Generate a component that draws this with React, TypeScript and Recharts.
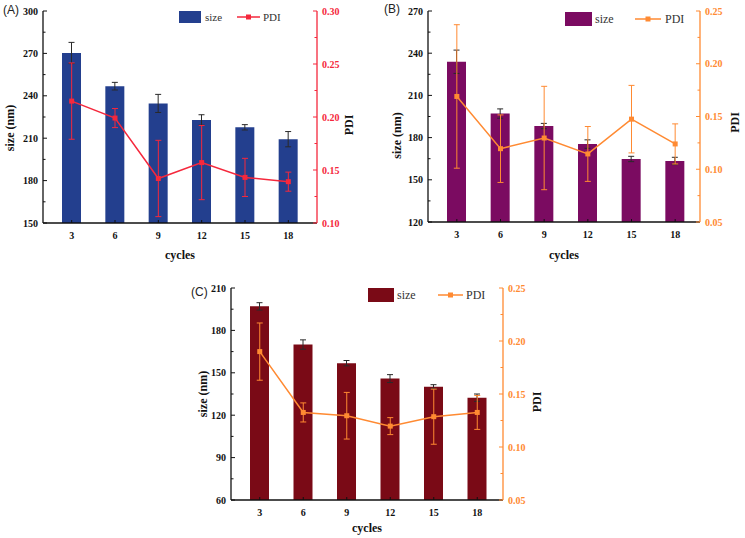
import React from 'react';
import { ComposedChart, Bar, Line, XAxis, YAxis, ErrorBar, Legend } from 'recharts';

const cycles = ['3', '6', '9', '12', '15', '18'];

// panel A
const sizeA = [270.3, 246.8, 234.6, 222.9, 217.7, 209.3];
const sizeErrA = [7.5, 2.7, 6.4, 3.7, 1.9, 5.4];
const pdiA = [0.215, 0.199, 0.142, 0.157, 0.143, 0.139];
const pdiErrA = [0.036, 0.009, 0.036, 0.035, 0.018, 0.009];
const sizeTicksA = [150, 180, 210, 240, 270, 300];
const pdiTicksA = [0.1, 0.15, 0.2, 0.25, 0.3];

// panel B
const sizeB = [233.9, 197.1, 188.2, 175.4, 164.8, 163.4];
const sizeErrB = [8.3, 3.3, 1.9, 3.0, 1.9, 2.6];
const pdiB = [0.169, 0.1195, 0.1296, 0.1145, 0.1475, 0.124];
const pdiErrB = [0.068, 0.032, 0.049, 0.026, 0.032, 0.019];
const sizeTicksB = [120, 150, 180, 210, 240, 270];
const pdiTicksB = [0.05, 0.1, 0.15, 0.2, 0.25];

// panel C
const sizeC = [197.0, 170.0, 156.8, 145.9, 140.2, 132.4];
const sizeErrC = [2.6, 3.3, 1.9, 2.8, 1.4, 2.6];
const pdiC = [0.19, 0.1326, 0.1295, 0.1197, 0.1286, 0.1326];
const pdiErrC = [0.027, 0.009, 0.022, 0.008, 0.026, 0.016];
const sizeTicksC = [60, 90, 120, 150, 180, 210];
const pdiTicksC = [0.05, 0.1, 0.15, 0.2, 0.25];

const SERIF = '"Liberation Serif", "Times New Roman", serif';
const SANS = '"Liberation Sans", Arial, sans-serif';

const buildRows = (size: number[], sizeErr: number[], pdi: number[], pdiErr: number[]) =>
  cycles.map((c, i) => ({ cycle: c, size: size[i], sizeErr: sizeErr[i], pdi: pdi[i], pdiErr: pdiErr[i] }));

// majors plus a minor tick halfway between each pair
const withMinors = (majors: number[]) =>
  majors.flatMap((t, i) => (i < majors.length - 1 ? [t, (t + majors[i + 1]) / 2] : [t]));

const isMajor = (v: number, majors: number[]) => majors.some((m) => Math.abs(m - v) < 1e-9);

const yTick = (side: 'left' | 'right', color: string, majors: number[], fmt: (v: number) => string) => (props: any) => {
  const { x, y, payload, index } = props;
  const major = isMajor(payload.value, majors);
  const axisX = side === 'left' ? x + 5 : x - 5;
  const len = major ? 4 : 2.5;
  const x2 = side === 'left' ? axisX + len : axisX - len;
  return (
    <g key={`t${index}`}>
      <line x1={axisX} x2={x2} y1={y} y2={y} stroke={color} strokeWidth={1} />
      {major && (
        <text
          x={x}
          y={y}
          dy="0.355em"
          textAnchor={side === 'left' ? 'end' : 'start'}
          fontFamily={SERIF}
          fontWeight="bold"
          fontSize={10}
          fill={color}
        >
          {fmt(payload.value)}
        </text>
      )}
    </g>
  );
};

const vLabel = (text: string, x: number, dy: number, fallbackY: number) => (props: any) => {
  const vb = props && props.viewBox;
  const cy = vb && typeof vb.y === 'number' ? vb.y + vb.height / 2 + dy : fallbackY;
  return (
    <text
      x={x}
      y={cy}
      transform={`rotate(-90 ${x} ${cy})`}
      textAnchor="middle"
      dominantBaseline="central"
      fontFamily={SERIF}
      fontWeight="bold"
      fontSize={12}
      fill="#111"
    >
      {text}
    </text>
  );
};

interface LegendLayout {
  x: number; y: number; sw: number; sh: number; textX: number; l1: number; l2: number; pdiX: number; font: number;
}

interface PanelProps {
  tag: string;
  left: number; top: number; width: number; height: number;
  marginTop: number; leftW: number; rightW: number; xH: number;
  padL: number; padR: number; barSize: number;
  rows: any[];
  sizeTicks: number[]; pdiTicks: number[];
  barColor: string; lineColor: string;
  sizeTitleX: number; sizeTitleDy: number;
  pdiTitleX: number; pdiTitleDy: number;
  tagX: number; tagY: number;
  lg: LegendLayout;
}

function Panel(p: PanelProps) {
  const squareDot = (props: any) => {
    const { cx, cy, index } = props;
    return <rect key={`d${index}`} x={cx - 2.5} y={cy - 2.5} width={5} height={5} fill={p.lineColor} />;
  };

  const legendContent = () => (
    <svg width={130} height={p.lg.sh + 4} style={{ display: 'block' }}>
      <rect x={0} y={1} width={p.lg.sw} height={p.lg.sh} fill={p.barColor} />
      <text x={p.lg.textX} y={1 + p.lg.sh / 2} dominantBaseline="central" fontFamily={SERIF} fontSize={p.lg.font} fill="#333">
        size
      </text>
      <line x1={p.lg.l1} x2={p.lg.l2} y1={1 + p.lg.sh / 2} y2={1 + p.lg.sh / 2} stroke={p.lineColor} strokeWidth={1.5} />
      <rect x={(p.lg.l1 + p.lg.l2) / 2 - 2.5} y={1 + p.lg.sh / 2 - 2.5} width={5} height={5} fill={p.lineColor} />
      <text x={p.lg.pdiX} y={1 + p.lg.sh / 2} dominantBaseline="central" fontFamily={SERIF} fontSize={p.lg.font} fill="#333">
        PDI
      </text>
    </svg>
  );

  const sMin = p.sizeTicks[0];
  const sMax = p.sizeTicks[p.sizeTicks.length - 1];
  const pMin = p.pdiTicks[0];
  const pMax = p.pdiTicks[p.pdiTicks.length - 1];

  return (
    <div style={{ position: 'absolute', left: p.left, top: p.top, width: p.width, height: p.height }}>
      <div style={{ position: 'absolute', left: p.tagX, top: p.tagY, fontFamily: SANS, fontSize: 12, color: '#222', lineHeight: '14px' }}>
        {p.tag}
      </div>
      <ComposedChart
        width={p.width}
        height={p.height}
        data={p.rows}
        margin={{ top: p.marginTop, right: 0, bottom: 0, left: 0 }}
        barCategoryGap={0}
      >
        <XAxis
          dataKey="cycle"
          height={p.xH}
          padding={{ left: p.padL, right: p.padR }}
          axisLine={{ stroke: '#111', strokeWidth: 1.3 }}
          tickLine={{ stroke: '#111' }}
          tickSize={-3}
          tickMargin={12}
          tick={{ fontFamily: SERIF, fontWeight: 'bold', fontSize: 10, fill: '#111' }}
          label={{ value: 'cycles', position: 'insideBottom', offset: 6, fontFamily: SERIF, fontWeight: 'bold', fontSize: 12, fill: '#111' }}
        />
        <YAxis
          yAxisId="size"
          orientation="left"
          width={p.leftW}
          domain={[sMin, sMax]}
          ticks={withMinors(p.sizeTicks)}
          interval={0}
          axisLine={{ stroke: '#111', strokeWidth: 1.3 }}
          tickLine={false}
          tickSize={0}
          tickMargin={5}
          tick={yTick('left', '#111', p.sizeTicks, (v) => String(v))}
          label={vLabel('size (nm)', p.sizeTitleX, p.sizeTitleDy, 128)}
        />
        <YAxis
          yAxisId="pdi"
          orientation="right"
          width={p.rightW}
          domain={[pMin, pMax]}
          ticks={withMinors(p.pdiTicks)}
          interval={0}
          axisLine={{ stroke: p.lineColor, strokeWidth: 1.3 }}
          tickLine={false}
          tickSize={0}
          tickMargin={5}
          tick={yTick('right', p.lineColor, p.pdiTicks, (v) => v.toFixed(2))}
          label={vLabel('PDI', p.pdiTitleX, p.pdiTitleDy, 125)}
        />
        <Legend
          layout="horizontal"
          verticalAlign="middle"
          align="center"
          content={legendContent}
          wrapperStyle={{ left: p.lg.x, top: p.lg.y, width: 130 }}
        />
        <Bar yAxisId="size" dataKey="size" fill={p.barColor} barSize={p.barSize} isAnimationActive={false}>
          <ErrorBar dataKey="sizeErr" direction="y" width={3} stroke="#2a2a2a" strokeWidth={1} />
        </Bar>
        <Line
          yAxisId="pdi"
          dataKey="pdi"
          stroke={p.lineColor}
          strokeWidth={1.5}
          dot={squareDot}
          activeDot={false}
          isAnimationActive={false}
        >
          <ErrorBar dataKey="pdiErr" direction="y" width={3} stroke={p.lineColor} strokeWidth={1} />
        </Line>
      </ComposedChart>
    </div>
  );
}

export default function App() {
  return (
    <div style={{ position: 'absolute', left: 0, top: 0, width: 745, height: 538, background: '#fff', overflow: 'hidden' }}>
      <Panel
        tag="(A)"
        left={0} top={0} width={372} height={265}
        marginTop={11} leftW={43} rightW={55} xH={42}
        padL={7} padR={7} barSize={19}
        rows={buildRows(sizeA, sizeErrA, pdiA, pdiErrA)}
        sizeTicks={sizeTicksA} pdiTicks={pdiTicksA}
        barColor="#233f8e" lineColor="#f5283c"
        sizeTitleX={10} sizeTitleDy={11}
        pdiTitleX={349} pdiTitleDy={8}
        tagX={3} tagY={3}
        lg={{ x: 179, y: 10, sw: 22, sh: 12, textX: 26, l1: 58, l2: 81, pdiX: 84, font: 11 }}
      />
      <Panel
        tag="(B)"
        left={372} top={0} width={373} height={265}
        marginTop={11} leftW={56} rightW={45} xH={43}
        padL={7} padR={3} barSize={19}
        rows={buildRows(sizeB, sizeErrB, pdiB, pdiErrB)}
        sizeTicks={sizeTicksB} pdiTicks={pdiTicksB}
        barColor="#7b0b61" lineColor="#ff8a32"
        sizeTitleX={25} sizeTitleDy={19}
        pdiTitleX={363} pdiTitleDy={6}
        tagX={12} tagY={2}
        lg={{ x: 193, y: 11, sw: 27, sh: 14, textX: 30, l1: 70, l2: 96, pdiX: 100, font: 12 }}
      />
      <Panel
        tag="(C)"
        left={180} top={275} width={400} height={263}
        marginTop={13} leftW={51} rightW={77} xH={38}
        padL={7} padR={4} barSize={19}
        rows={buildRows(sizeC, sizeErrC, pdiC, pdiErrC)}
        sizeTicks={sizeTicksC} pdiTicks={pdiTicksC}
        barColor="#7a0a16" lineColor="#ff8a32"
        sizeTitleX={23} sizeTitleDy={0}
        pdiTitleX={357} pdiTitleDy={8}
        tagX={11} tagY={10}
        lg={{ x: 188, y: 12, sw: 26, sh: 14, textX: 29, l1: 70, l2: 95, pdiX: 98, font: 12 }}
      />
    </div>
  );
}
